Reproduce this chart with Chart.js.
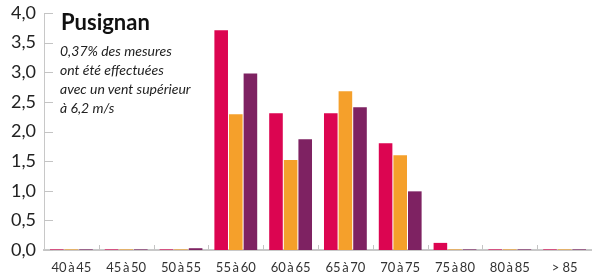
<!DOCTYPE html>
<html lang="fr">
<head>
<meta charset="utf-8">
<script src="https://cdn.jsdelivr.net/npm/chart.js@4"></script>
<style>
  body { margin: 0; background: #fff; }
  #wrap { position: relative; width: 592px; height: 276px; }
  #title {
    position: absolute; left: 61px; top: 8px;
    font: bold 22px Lato, sans-serif; color: #111;
  }
  #note {
    position: absolute; left: 60px; top: 41px;
    font: italic 14px/19px Lato, sans-serif; color: #222;
  }
</style>
</head>
<body>
<div id="wrap">
  <canvas id="chart" width="592" height="276"></canvas>
  <div id="title">Pusignan</div>
  <div id="note">0,37% des mesures<br>ont été effectuées<br>avec un vent supérieur<br>à 6,2 m/s</div>
</div>
<script>
// Wind speed classes (km/h)
const categories = ["40\u2009à\u200945", "45\u2009à\u200950", "50\u2009à\u200955", "55\u2009à\u200960",
  "60\u2009à\u200965", "65\u2009à\u200970", "70\u2009à\u200975", "75\u2009à\u200980", "80\u2009à\u200985", "> 85"];

const serieRouge = [0.01, 0.01, 0.01, 3.71, 2.31, 2.31, 1.80, 0.12, 0.01, 0.01];
const serieOrange = [0.01, 0.01, 0.01, 2.29, 1.52, 2.68, 1.60, 0.01, 0.01, 0.01];
const serieViolet = [0.01, 0.01, 0.03, 2.98, 1.87, 2.41, 0.99, 0.01, 0.01, 0.01];

const yTicks = [0, 0.5, 1, 1.5, 2, 2.5, 3, 3.5, 4];

// short tick marks drawn inside the plot, as in the print version
const innerTicks = {
  id: "innerTicks",
  afterDraw(chart) {
    const { ctx, chartArea: area, scales } = chart;
    ctx.save();
    ctx.strokeStyle = "#c4c4c4";
    ctx.lineWidth = 1;
    yTicks.forEach((v) => {
      const y = Math.round(scales.y.getPixelForValue(v)) + 0.5;
      ctx.beginPath();
      ctx.moveTo(area.left, y);
      ctx.lineTo(area.left + 9, y);
      ctx.stroke();
    });
    for (let i = 1; i < categories.length; i++) {
      const x = Math.round((scales.x.getPixelForValue(i - 1) + scales.x.getPixelForValue(i)) / 2) + 0.5;
      ctx.beginPath();
      ctx.moveTo(x, area.bottom - 5);
      ctx.lineTo(x, area.bottom);
      ctx.stroke();
    }
    ctx.restore();
  },
};

new Chart(document.getElementById("chart"), {
  type: "bar",
  data: {
    labels: categories,
    datasets: [
      { label: "Série 1", data: serieRouge, backgroundColor: "#dc0551" },
      { label: "Série 2", data: serieOrange, backgroundColor: "#f5a02b" },
      { label: "Série 3", data: serieViolet, backgroundColor: "#7e2262" },
    ],
  },
  options: {
    responsive: false,
    animation: false,
    layout: { padding: { top: 13, right: 0, left: 0, bottom: 0 } },
    datasets: { bar: { categoryPercentage: 0.8, barPercentage: 0.93 } },
    plugins: { legend: { display: false }, tooltip: { enabled: false } },
    scales: {
      x: {
        grid: { display: false, drawTicks: false },
        border: { color: "#c8c8c8", width: 2 },
        ticks: {
          padding: 10,
          color: "#333",
          font: { family: "Lato", size: 13 },
          maxRotation: 0,
          autoSkip: false,
        },
        afterFit: (s) => { s.height = 26; },
      },
      y: {
        min: 0,
        max: 4,
        grid: { display: false, drawTicks: false },
        border: { color: "#c8c8c8", width: 1 },
        afterBuildTicks: (s) => { s.ticks = yTicks.map((v) => ({ value: v })); },
        ticks: {
          padding: 8,
          color: "#222",
          font: { family: "Lato", size: 18 },
          callback: (v) => v.toFixed(1).replace(".", ","),
        },
        afterFit: (s) => { s.width = 44; s.paddingTop = 0; s.paddingBottom = 0; },
      },
    },
  },
  plugins: [innerTicks],
});
</script>
</body>
</html>
